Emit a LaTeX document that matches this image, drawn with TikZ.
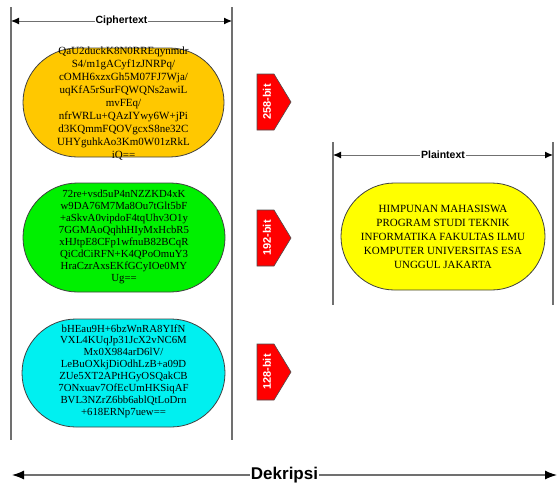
\documentclass[tikz,border=0pt]{standalone}
\usepackage{fontspec}
\setmainfont{Liberation Serif}
\newfontfamily\arialfont{Liberation Sans}
\usetikzlibrary{arrows.meta}
\definecolor{lineg}{HTML}{707070}
\definecolor{orangefill}{HTML}{FFC800}
\definecolor{greenfill}{HTML}{00F000}
\definecolor{cyanfill}{HTML}{00F0F0}
\definecolor{yellowfill}{HTML}{FFFF00}
\definecolor{redfill}{HTML}{FF0000}
\tikzset{
  vline/.style={draw=lineg, line width=1.1pt},
  dimarrow/.style={draw=lineg, line width=1pt, {Latex[length=8pt,width=7pt,color=black]}-{Latex[length=8pt,width=7pt,color=black]}},
  bigarrow/.style={draw=lineg, line width=1.2pt, {Latex[length=12pt,width=9pt,color=black]}-{Latex[length=12pt,width=9pt,color=black]}},
  dimlabel/.style={fill=white, inner sep=0.8pt, font=\arialfont\bfseries\fontsize{10.5}{12}\selectfont},
  stadium/.style={draw=black!75, line width=0.8pt, inner sep=0pt},
  cipher/.style={align=center, inner sep=0pt, font=\fontsize{10.8}{11.9}\selectfont},
  bitbox/.style={fill=redfill, draw=black!70, line width=0.6pt},
  bitlabel/.style={rotate=90, text=white, inner sep=0pt, font=\arialfont\bfseries\fontsize{11}{12}\selectfont}
}
\begin{document}
\begin{tikzpicture}[x=1pt,y=-1pt]
\useasboundingbox (0,0) rectangle (559,488);

% Ciphertext frame
\coordinate (cLt) at (11,7);
\coordinate (cLb) at (11,440);
\coordinate (cRt) at (232,7);
\coordinate (cRb) at (232,440);
\coordinate (cLa) at (11,21);
\coordinate (cRa) at (232,21);
\draw[vline] (cLt) -- (cLb);
\draw[vline] (cRt) -- (cRb);
\draw[dimarrow] (cLa) -- node[dimlabel] (ctlabel) {Ciphertext} (cRa);

% Stadium shapes
\node[stadium, fill=orangefill, minimum width=201pt, minimum height=109pt, rounded corners=54.5pt] (orange) at (123.5,102.5) {};
\node[cipher, font=\fontsize{11}{12.9}\selectfont] (orangetxt) at (123.5,103.5) {QaU2duckK8N0RREqynmdr\\S4/m1gACyf1zJNRPq/\\cOMH6xzxGh5M07FJ7Wja/\\uqKfA5rSurFQWQNs2awiL\\mvFEq/\\nfrWRLu+QAzIYwy6W+jPi\\d3KQmmFQOVgcxS8ne32C\\UHYguhkAo3Km0W01zRkL\\iQ==};

\node[stadium, fill=greenfill, minimum width=202pt, minimum height=109pt, rounded corners=54.5pt] (green) at (124,237.5) {};
\node[cipher] (greentxt) at (124,237) {72re+vsd5uP4nNZZKD4xK\\w9DA76M7Ma8Ou7tGlt5bF\\+aSkvA0vipdoF4tqUhv3O1y\\7GGMAoQqhhHIyMxHcbR5\\xHJtpE8CFp1wfnuB82BCqR\\QiCdCiRFN+K4QPoOmuY3\\HraCzrAxsEKfGCyIOe0MY\\Ug==};

\node[stadium, fill=cyanfill, minimum width=203pt, minimum height=108pt, rounded corners=54pt] (cyan) at (123.5,373) {};
\node[cipher] (cyantxt) at (123.5,371) {bHEau9H+6bzWnRA8YIfN\\VXL4KUqJp31JcX2vNC6M\\Mx0X984arD6lV/\\LeBuOXkjDiOdhLzB+a09D\\ZUe5XT2APtHGyOSQakCB\\7ONxuav7OfEcUmHKSiqAF\\BVL3NZrZ6bb6ablQtLoDrn\\+618ERNp7uew==};

% Bit markers
\draw[bitbox] (257,74) -- (274,74) -- (291,102) -- (274,130) -- (257,130) -- cycle;
\node[bitlabel] (b258) at (267,102) {258-bit};
\draw[bitbox] (257,210) -- (274,210) -- (291,238) -- (274,266) -- (257,266) -- cycle;
\node[bitlabel] (b192) at (267,238) {192-bit};
\draw[bitbox] (257,344) -- (274,344) -- (291,372) -- (274,400) -- (257,400) -- cycle;
\node[bitlabel] (b128) at (267,372) {128-bit};

% Plaintext frame
\coordinate (pLt) at (333,142);
\coordinate (pLb) at (333,305);
\coordinate (pRt) at (553,142);
\coordinate (pRb) at (553,305);
\coordinate (pLa) at (333,155);
\coordinate (pRa) at (553,155);
\draw[vline] (pLt) -- (pLb);
\draw[vline] (pRt) -- (pRb);
\draw[dimarrow] (pLa) -- node[dimlabel] (ptlabel) {Plaintext} (pRa);

\node[stadium, fill=yellowfill, minimum width=204pt, minimum height=107pt, rounded corners=53.5pt] (yellow) at (443,236.5) {};
\node[cipher, font=\fontsize{11}{13.8}\selectfont] (yellowtxt) at (443,237) {HIMPUNAN MAHASISWA\\PROGRAM STUDI TEKNIK\\INFORMATIKA FAKULTAS ILMU\\KOMPUTER UNIVERSITAS ESA\\UNGGUL JAKARTA};

% Dekripsi
\coordinate (dL) at (12,475);
\coordinate (dR) at (557,475);
\draw[bigarrow] (dL) -- node[fill=white, inner sep=1pt, font=\arialfont\bfseries\fontsize{17}{20}\selectfont] (dlabel) {Dekripsi} (dR);
\end{tikzpicture}
\end{document}
